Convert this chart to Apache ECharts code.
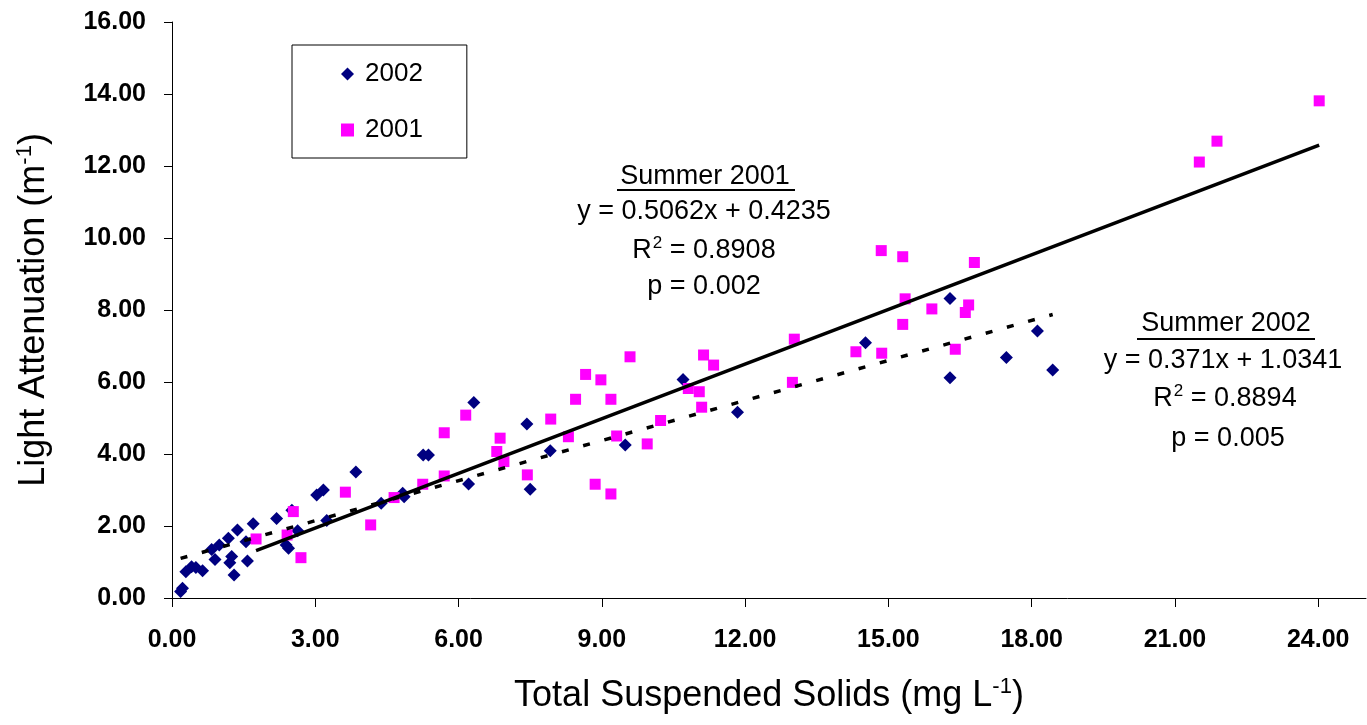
<!DOCTYPE html>
<html>
<head>
<meta charset="utf-8">
<script src="https://cdn.jsdelivr.net/npm/echarts@6/dist/echarts.min.js"></script>
<style>
  html, body { margin: 0; padding: 0; background: #fff; }
  #chart { width: 1367px; height: 725px; }
</style>
</head>
<body>
<div id="chart"></div>
<script>
// Summer 2002 samples: total suspended solids (mg/L) and light attenuation (1/m)
const tss2002 = [0.18, 0.22, 0.29, 0.41, 0.50, 0.64, 0.83, 0.90, 0.99, 1.18, 1.21, 1.25, 1.30, 1.37,
  1.55, 1.58, 1.70, 2.19, 2.39, 2.44, 2.51, 2.63, 3.03, 3.17, 3.24, 3.85, 4.38, 4.83, 4.86, 5.26,
  5.37, 6.21, 6.32, 7.43, 7.50, 7.92, 9.49, 10.70, 11.84, 14.52, 16.29, 16.29, 17.47, 18.12, 18.44];
const kd2002 = [0.18, 0.27, 0.73, 0.87, 0.85, 0.76, 1.35, 1.07, 1.47, 1.66, 0.98, 1.15, 0.64, 1.89,
  1.56, 1.03, 2.06, 2.21, 1.47, 1.38, 2.44, 1.87, 2.86, 3.00, 2.15, 3.50, 2.63, 2.91, 2.81, 3.97,
  3.97, 3.17, 5.43, 4.83, 3.02, 4.09, 4.25, 6.07, 5.16, 7.09, 8.32, 6.12, 6.68, 7.42, 6.33];

// Summer 2001 samples
const tss2001 = [1.76, 2.41, 2.54, 2.70, 3.63, 4.16, 4.65, 5.25, 5.70, 5.70, 6.15, 6.80, 6.87, 6.95,
  7.44, 7.93, 8.30, 8.45, 8.66, 8.86, 8.98, 9.19, 9.19, 9.31, 9.59, 9.95, 10.23, 10.81, 11.04, 11.09,
  11.13, 11.34, 12.99, 13.03, 14.32, 14.85, 14.86, 15.30, 15.30, 15.35, 15.91, 16.40, 16.61, 16.68,
  16.80, 21.51, 21.88, 24.02];
const kd2001 = [1.64, 1.75, 2.40, 1.12, 2.94, 2.03, 2.79, 3.16, 4.59, 3.39, 5.08, 4.07, 4.44, 3.79,
  3.42, 4.97, 4.48, 5.52, 6.21, 3.16, 6.06, 5.52, 2.89, 4.50, 6.70, 4.28, 4.93, 5.82, 5.73, 5.30,
  6.75, 6.47, 5.99, 7.19, 6.84, 9.65, 6.80, 9.48, 7.60, 8.31, 8.03, 6.91, 7.93, 8.14,
  9.32, 12.11, 12.69, 13.81];

// Linear regression fits [slope, intercept] as printed in the annotations
const fit2001 = [0.5062, 0.4235];
const fit2002 = [0.371, 1.0341];

// Axis tick values
const xTicks = [0, 3, 6, 9, 12, 15, 18, 21, 24];
const yTicks = [0, 2, 4, 6, 8, 10, 12, 14, 16];

const FONT = '"Liberation Sans", Arial, sans-serif';

function pairs(xs, ys) { return xs.map((x, i) => [x, ys[i]]); }
function fitLine(xs, fit) {
  const lo = Math.min(...xs), hi = Math.max(...xs);
  return [[lo, fit[0] * lo + fit[1]], [hi, fit[0] * hi + fit[1]]];
}

const chart = echarts.init(document.getElementById('chart'), null, { renderer: 'canvas' });

const annText = { fontSize: 27, fontFamily: FONT, fill: '#000' };
const supRich = {
  b: { fontSize: 27, fontFamily: FONT, color: '#000', lineHeight: 32 },
  s: { fontSize: 17, fontFamily: FONT, color: '#000', verticalAlign: 'top', lineHeight: 32, padding: [0, 0, 0, 1] }
};
function line(txt, x, y) {
  return { type: 'text', z: 100, style: Object.assign({ text: txt, x: x, y: y, align: 'center', verticalAlign: 'middle', textAlign: 'center', textVerticalAlign: 'middle' }, annText) };
}
function rline(txt, x, y) {
  return { type: 'text', z: 100, style: { text: txt, x: x, y: y, rich: supRich, font: '27px ' + FONT, align: 'center', verticalAlign: 'middle', textAlign: 'center', textVerticalAlign: 'middle' } };
}
function underline(x1, x2, y) {
  return { type: 'line', z: 100, shape: { x1: x1, y1: y, x2: x2, y2: y }, style: { stroke: '#000', lineWidth: 2 } };
}

chart.setOption({
  animation: false,
  backgroundColor: '#fff',
  grid: { left: 172, right: 1, top: 22, bottom: 127, containLabel: false },
  legend: {
    orient: 'vertical', left: 292, top: 45,
    padding: [15, 44, 14, 49], itemGap: 28, itemWidth: 13, itemHeight: 13,
    borderColor: '#000', borderWidth: 1,
    textStyle: { fontSize: 26, fontFamily: FONT, color: '#000', padding: [0, 0, 0, 6], lineHeight: 28 },
    data: [{ name: '2002', icon: 'diamond' }, { name: '2001', icon: 'rect' }]
  },
  xAxis: {
    type: 'value', min: 0, max: 25,
    name: '{a|Total Suspended Solids (mg L}{s|-1}{a|)}',
    nameLocation: 'middle', nameGap: 78,
    nameTextStyle: {
      rich: {
        a: { fontSize: 36, fontFamily: FONT, color: '#000', lineHeight: 40 },
        s: { fontSize: 22, fontFamily: FONT, color: '#000', verticalAlign: 'top', lineHeight: 40 }
      }
    },
    axisLine: { show: true, onZero: false, lineStyle: { color: '#000', width: 1 } },
    axisTick: { show: true, length: 9, customValues: xTicks, lineStyle: { color: '#000' } },
    axisLabel: {
      customValues: xTicks, margin: 30,
      formatter: v => v.toFixed(2),
      fontSize: 25, fontWeight: 'bold', fontFamily: FONT, color: '#000'
    },
    splitLine: { show: false }
  },
  yAxis: {
    type: 'value', min: 0, max: 16,
    name: '{a|Light Attenuation (m}{s|-1}{a|)}',
    nameLocation: 'middle', nameGap: 118,
    nameTextStyle: {
      rich: {
        a: { fontSize: 36, fontFamily: FONT, color: '#000', lineHeight: 40 },
        s: { fontSize: 22, fontFamily: FONT, color: '#000', verticalAlign: 'top', lineHeight: 40 }
      }
    },
    axisLine: { show: true, onZero: false, lineStyle: { color: '#000', width: 1 } },
    axisTick: { show: true, length: 8, customValues: yTicks, lineStyle: { color: '#000' } },
    axisLabel: {
      customValues: yTicks, margin: 26,
      formatter: v => v.toFixed(2),
      fontSize: 25, fontWeight: 'bold', fontFamily: FONT, color: '#000'
    },
    splitLine: { show: false }
  },
  series: [
    {
      name: '2002', type: 'scatter', symbol: 'diamond', symbolSize: 13,
      itemStyle: { color: '#000080', opacity: 1 }, data: pairs(tss2002, kd2002), z: 2
    },
    {
      name: '2001', type: 'scatter', symbol: 'rect', symbolSize: 11,
      itemStyle: { color: '#FF00FF', opacity: 1 }, data: pairs(tss2001, kd2001), z: 3
    },
    {
      name: 'Fit 2001', type: 'line', symbol: 'none', silent: true, z: 4,
      lineStyle: { color: '#000', width: 3.5 }, data: fitLine(tss2001, fit2001)
    },
    {
      name: 'Fit 2002', type: 'line', symbol: 'none', silent: true, z: 4,
      lineStyle: { color: '#000', width: 3.5, type: [7, 15] }, data: fitLine(tss2002, fit2002)
    }
  ],
  graphic: [
    line('Summer 2001', 705, 177),
    underline(617, 795, 190),
    line('y = ' + fit2001[0] + 'x + ' + fit2001[1], 704, 212),
    rline('{b|R}{s|2}{b| = 0.8908}', 704, 251),
    line('p = 0.002', 704, 287),

    line('Summer 2002', 1226, 324),
    underline(1137, 1315, 339),
    line('y = ' + fit2002[0] + 'x + ' + fit2002[1], 1223, 361),
    rline('{b|R}{s|2}{b| = 0.8894}', 1225, 399),
    line('p = 0.005', 1228, 439)
  ]
});
</script>
</body>
</html>
